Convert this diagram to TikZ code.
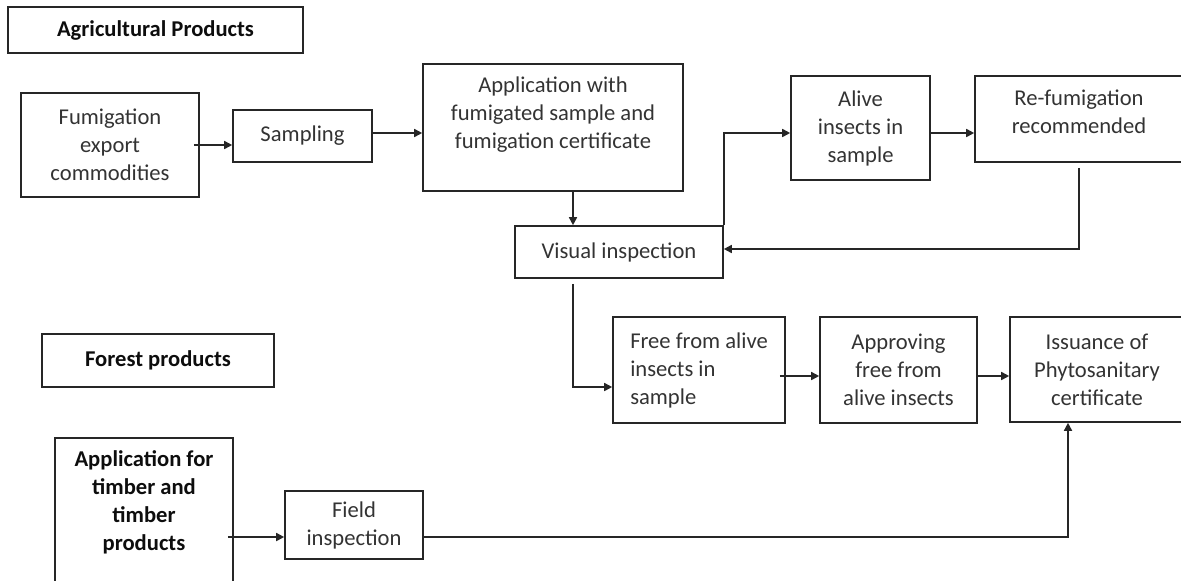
\documentclass[tikz,border=0pt]{standalone}
\usepackage{fontspec}
\setmainfont{Carlito}
\usetikzlibrary{arrows.meta}

\begin{document}
\begin{tikzpicture}[x=.5pt,y=-.5pt,
	box/.style 2 args={draw=black!85,line width=.8pt,minimum width=#1,minimum height=#2,inner sep=0pt},
	txt/.style={align=center,text=black!80,font=\fontsize{11.3}{14}\selectfont},
	bold/.style={align=center,text=black!95,font=\fontsize{11.3}{14}\selectfont\bfseries},
	arr/.style={draw=black!85,line width=.8pt,-{Triangle[length=4pt,width=4pt]}}]
	\useasboundingbox (0,0) rectangle (1181,580);
	% agricultural products
	\node[box={147.5pt}{23pt},bold] (agri) at (155.5,30) {Agricultural Products};
	\node[box={89pt}{52pt},txt] (fumi) at (110,145) {Fumigation\\export\\commodities};
	\node[box={69.5pt}{26pt},txt] (samp) at (302.5,136) {Sampling};
	\node[box={130pt}{63.5pt}] (appl) at (553,127.5) {};
	\node[txt] (applt) at (553,115) {Application with\\fumigated sample and\\fumigation certificate};
	\node[box={69.5pt}{52pt},txt] (alive) at (860.5,128) {Alive\\insects in\\sample};
	\node[box={107.5pt}{43pt}] (refum) at (1082.5,119) {};
	\node[txt] (refumt) at (1079,111.5) {Re-fumigation\\recommended};
	\node[box={104pt}{26pt},txt] (visual) at (619,252) {Visual inspection};
	\node[box={86pt}{53pt},txt,align=left] (free) at (699,370) {Free from alive\\insects in\\sample};
	\node[box={78.5pt}{53pt},txt] (appr) at (898.5,370) {Approving\\free from\\alive insects};
	\node[box={90pt}{52.5pt}] (issu) at (1100,369.5) {};
	\node[txt] (issut) at (1097,369.5) {Issuance of\\Phytosanitary\\certificate};
	% forest products
	\node[box={116pt}{26.5pt},bold] (forest) at (158,360.5) {Forest products};
	\node[box={89pt}{81pt}] (timber) at (144,519) {};
	\node[bold] (timbert) at (144,502) {Application for\\timber and\\timber\\products};
	\node[box={69pt}{34pt},txt] (field) at (354,525) {Field\\inspection};
	% connectors
	\draw[arr] ([xshift=-3pt]fumi.east) -- (fumi.east -| samp.west);
	\coordinate (s1) at ([yshift=1.5pt]samp.east);
	\draw[arr] (s1) -- (s1 -| appl.west);
	\coordinate (a1) at ([xshift=10pt]appl.south);
	\draw[arr] (a1) -- (a1 |- visual.north);
	\coordinate (a2) at ([yshift=-2.5pt]alive.west);
	\draw[arr] (visual.north east) |- (a2);
	\coordinate (a3) at ([yshift=-2.5pt]alive.east);
	\draw[arr] (a3) -- (a3 -| refum.west);
	\coordinate (a4) at ([yshift=1.5pt]visual.east);
	\coordinate (r1) at ([yshift=-2.5pt]refumt |- refum.south);
	\draw[arr] (r1) |- (a4);
	\coordinate (a5) at ([yshift=-8.5pt]free.west);
	\draw[arr] ([xshift=-23pt,yshift=-2.5pt]visual.south) |- (a5);
	\coordinate (a6) at ([xshift=-3pt,yshift=-3pt]free.east);
	\draw[arr] (a6) -- (a6 -| appr.west);
	\coordinate (a7) at ([yshift=-3pt]appr.east);
	\draw[arr] (a7) -- (a7 -| issu.west);
	\coordinate (a8) at ([yshift=-6pt]field.west);
	\coordinate (a9) at (a8 -| timber.east);
	\draw[arr] ([xshift=-3pt]a9) -- (a8);
	\coordinate (a10) at ([yshift=-6pt]field.east);
	\draw[arr] (a10) -| ([xshift=-16pt]issu.south);
\end{tikzpicture}
\end{document}
